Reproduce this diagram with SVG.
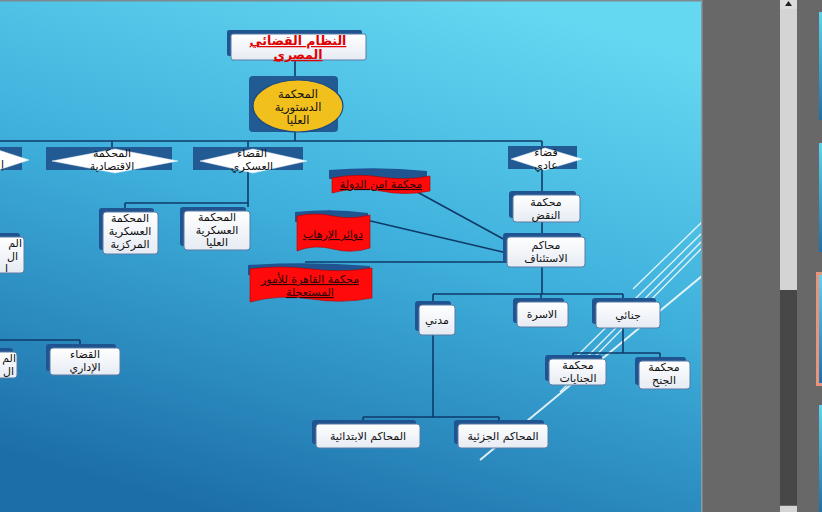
<svg xmlns="http://www.w3.org/2000/svg" width="822" height="512" viewBox="0 0 822 512">
<defs>
<linearGradient id="bg" x1="0.7" y1="0" x2="0.3" y2="1">
<stop offset="0" stop-color="#64d7f1"/>
<stop offset="0.45" stop-color="#3fb0dc"/>
<stop offset="1" stop-color="#1c6ea8"/>
</linearGradient>
<linearGradient id="boxg" x1="0" y1="0" x2="0" y2="1">
<stop offset="0" stop-color="#ffffff"/>
<stop offset="1" stop-color="#e6ebf3"/>
</linearGradient>
<linearGradient id="thumb" x1="0" y1="0" x2="0" y2="1">
<stop offset="0" stop-color="#5fd3ee"/>
<stop offset="1" stop-color="#1f6fa6"/>
</linearGradient>
<style>
.sh{fill:#1f5490;}
.box{fill:url(#boxg);stroke:#5a7aa6;stroke-width:1;}
.dk{fill:#225a94;}
.dia{fill:#ffffff;stroke:#e8eef6;stroke-width:0.5;}
.t{font-family:"DejaVu Sans",sans-serif;font-size:11px;fill:#111;text-anchor:middle;}
.rt{font-family:"DejaVu Sans",sans-serif;font-size:11px;fill:#2a0505;text-anchor:middle;text-decoration:underline;}
.red{fill:#ff0a0a;stroke:#b00000;stroke-width:0.6;}
.rsh{fill:#1f5490;}
.ln{stroke:#0e3a68;stroke-width:1.6;fill:none;}
.deco{stroke:#ffffff;fill:none;opacity:0.85;}
</style>
</defs>

<rect x="0" y="0" width="702" height="512" fill="url(#bg)"/>
<rect x="0" y="0" width="702" height="1.5" fill="#7d8a90"/>

<g id="decoration">
<line class="deco" x1="480" y1="460" x2="702" y2="276" stroke-width="2"/>
<line class="deco" x1="633" y1="289" x2="702" y2="222" stroke-width="1.3"/>
<line class="deco" x1="576" y1="357" x2="702" y2="233" stroke-width="1.3"/>
<line class="deco" x1="586" y1="358" x2="702" y2="241" stroke-width="1.3"/>
<line class="deco" x1="560" y1="392" x2="702" y2="248" stroke-width="1.3"/>
</g>

<g id="connectors">
<line class="ln" x1="295" y1="60" x2="295" y2="80"/>
<line class="ln" x1="295" y1="132" x2="295" y2="141"/>
<line class="ln" x1="0" y1="141" x2="542" y2="141"/>
<line class="ln" x1="112" y1="141" x2="112" y2="148"/>
<line class="ln" x1="248" y1="141" x2="248" y2="207"/>
<line class="ln" x1="125" y1="203" x2="248" y2="203"/>
<line class="ln" x1="125" y1="203" x2="125" y2="209"/>
<line class="ln" x1="542" y1="141" x2="542" y2="294"/>
<line class="ln" x1="377" y1="170" x2="507" y2="241"/>
<line class="ln" x1="328" y1="211" x2="507" y2="253"/>
<line class="ln" x1="305" y1="262" x2="507" y2="262"/>
<line class="ln" x1="433" y1="294" x2="623" y2="294"/>
<line class="ln" x1="433" y1="294" x2="433" y2="417"/>
<line class="ln" x1="541" y1="294" x2="541" y2="300"/>
<line class="ln" x1="623" y1="294" x2="623" y2="353"/>
<line class="ln" x1="573" y1="353" x2="660" y2="353"/>
<line class="ln" x1="573" y1="353" x2="573" y2="357"/>
<line class="ln" x1="660" y1="353" x2="660" y2="358"/>
<line class="ln" x1="363" y1="417" x2="499" y2="417"/>
<line class="ln" x1="363" y1="417" x2="363" y2="421"/>
<line class="ln" x1="499" y1="417" x2="499" y2="421"/>
<line class="ln" x1="0" y1="340" x2="80" y2="340"/>
<line class="ln" x1="80" y1="340" x2="80" y2="346"/>
</g>

<g id="title">
<rect class="sh" x="227" y="30" width="135" height="26" rx="2"/>
<rect class="box" x="231" y="34" width="135" height="26" rx="2"/>
<text class="t" x="298" y="45" style="fill:#e00000;font-weight:bold;font-size:12.5px;text-decoration:underline">النظام القضائي<tspan x="298" dy="14">المصري</tspan></text>
</g>

<g id="constitutional-court">
<rect class="dk" x="249" y="76" width="89" height="56" rx="4"/>
<ellipse cx="298" cy="106" rx="45" ry="26" fill="#f1c01c" stroke="#1d4b82" stroke-width="1.2"/>
<text class="t" x="298" y="98" style="font-size:11.5px">المحكمة<tspan x="298" dy="13">الدستورية</tspan><tspan x="298" dy="13">العليا</tspan></text>
</g>

<g id="left-diamond">
<rect class="dk" x="0" y="147" width="22" height="23"/>
<polygon class="dia" points="-40,160 -5,149 29,160 -5,171"/>
<text class="t" x="4" y="168" style="text-anchor:end">إ</text>
</g>

<g id="economic-court">
<rect class="dk" x="46" y="147" width="126" height="23"/>
<polygon class="dia" points="52,161 115,149 178,161 115,173"/>
<text class="t" x="112" y="157">المحكمة<tspan x="112" dy="13">الاقتصادية</tspan></text>
</g>

<g id="military-judiciary">
<rect class="dk" x="193" y="147" width="110" height="23"/>
<polygon class="dia" points="200,161 253,149 307,161 253,173"/>
<text class="t" x="252" y="157">القضاء<tspan x="252" dy="13">العسكري</tspan></text>
</g>

<g id="central-military-court">
<rect class="sh" x="99" y="208" width="55" height="42" rx="3"/>
<rect class="box" x="103" y="212" width="55" height="42" rx="3"/>
<text class="t" x="130" y="222">المحكمة<tspan x="130" dy="13">العسكرية</tspan><tspan x="130" dy="13">المركزية</tspan></text>
</g>

<g id="supreme-military-court">
<rect class="sh" x="180" y="207" width="66" height="39" rx="3"/>
<rect class="box" x="184" y="211" width="66" height="39" rx="3"/>
<text class="t" x="217" y="221">المحكمة<tspan x="217" dy="12.5">العسكرية</tspan><tspan x="217" dy="12.5">العليا</tspan></text>
</g>

<g id="ordinary-judiciary">
<rect class="dk" x="508" y="146" width="69" height="23"/>
<polygon class="dia" points="511,159 545,148 582,159 545,170"/>
<text class="t" x="546" y="156">قضاء<tspan x="546" dy="12.5">عادي</tspan></text>
</g>

<g id="cassation-court">
<rect class="sh" x="509" y="191" width="67" height="27" rx="3"/>
<rect class="box" x="513" y="195" width="67" height="27" rx="3"/>
<text class="t" x="546" y="206">محكمة<tspan x="546" dy="13">النقض</tspan></text>
</g>

<g id="appeal-courts">
<rect class="sh" x="503" y="233" width="78" height="30" rx="3"/>
<rect class="box" x="507" y="237" width="78" height="30" rx="3"/>
<text class="t" x="546" y="249">محاكم<tspan x="546" dy="13">الاستئناف</tspan></text>
</g>

<g id="state-security-court">
<path class="rsh" d="M329,170 Q378,166 427,171 L427,179 L329,179 Z"/>
<path class="red" d="M332,178 Q356,173 381,177 T430,176 L430,191 Q405,196 381,191 T332,193 Z"/>
<text class="rt" x="381" y="188">محكمة امن الدولة</text>
</g>

<g id="terrorism-circuits">
<path class="rsh" d="M295,212 Q332,208 368,213 L368,222 L295,222 Z"/>
<path class="red" d="M297,216 Q315,212 333,216 T370,215 L370,248 Q352,254 333,249 T297,251 Z"/>
<text class="rt" x="333" y="238">دوائر الإرهاب</text>
</g>

<g id="cairo-urgent-court">
<path class="rsh" d="M248,265 Q309,261 370,266 L370,275 L248,275 Z"/>
<path class="red" d="M250,269 Q280,265 311,269 T372,268 L372,298 Q342,304 311,299 T250,302 Z"/>
<text class="rt" x="310" y="283">محكمة القاهرة للأمور<tspan x="310" dy="13">المستعجلة</tspan></text>
</g>

<g id="civil">
<rect class="sh" x="415" y="301" width="36" height="30" rx="3"/>
<rect class="box" x="419" y="305" width="36" height="30" rx="3"/>
<text class="t" x="437" y="324">مدني</text>
</g>

<g id="family">
<rect class="sh" x="513" y="298" width="51" height="25" rx="3"/>
<rect class="box" x="517" y="302" width="51" height="25" rx="3"/>
<text class="t" x="542" y="318">الاسرة</text>
</g>

<g id="criminal">
<rect class="sh" x="592" y="298" width="64" height="26" rx="3"/>
<rect class="box" x="596" y="302" width="64" height="26" rx="3"/>
<text class="t" x="628" y="319">جنائي</text>
</g>

<g id="felonies-court">
<rect class="sh" x="545" y="355" width="57" height="26" rx="3"/>
<rect class="box" x="549" y="359" width="57" height="26" rx="3"/>
<text class="t" x="578" y="369">محكمة<tspan x="578" dy="12.5">الجنايات</tspan></text>
</g>

<g id="misdemeanors-court">
<rect class="sh" x="635" y="357" width="51" height="28" rx="3"/>
<rect class="box" x="639" y="361" width="51" height="28" rx="3"/>
<text class="t" x="664" y="371">محكمة<tspan x="664" dy="13">الجنح</tspan></text>
</g>

<g id="primary-courts">
<rect class="sh" x="312" y="420" width="104" height="24" rx="3"/>
<rect class="box" x="316" y="424" width="104" height="24" rx="3"/>
<text class="t" x="368" y="440">المحاكم الابتدائية</text>
</g>

<g id="district-courts">
<rect class="sh" x="454" y="420" width="90" height="24" rx="3"/>
<rect class="box" x="458" y="424" width="90" height="24" rx="3"/>
<text class="t" x="503" y="440">المحاكم الجزئية</text>
</g>

<g id="left-node-1">
<rect class="sh" x="-10" y="233" width="30" height="36" rx="3"/>
<rect class="box" x="-6" y="237" width="30" height="36" rx="3"/>
<text class="t" x="22" y="247" style="text-anchor:end">الم<tspan x="18" dy="12.5">ال</tspan><tspan x="8" dy="12.5">ا</tspan></text>
</g>

<g id="left-node-2">
<rect class="sh" x="-10" y="348" width="23" height="26" rx="3"/>
<rect class="box" x="-6" y="352" width="23" height="26" rx="3"/>
<text class="t" x="16" y="362" style="text-anchor:end">الم<tspan x="14" dy="12.5">ال</tspan></text>
</g>

<g id="administrative-judiciary">
<rect class="sh" x="46" y="344" width="70" height="27" rx="3"/>
<rect class="box" x="50" y="348" width="70" height="27" rx="3"/>
<text class="t" x="85" y="358">القضاء<tspan x="85" dy="13">الإداري</tspan></text>
</g>

<g id="app-panel">
<rect x="702" y="0" width="120" height="512" fill="#686868"/>
<rect x="701" y="0" width="1.5" height="512" fill="#8a9aa2"/>
<rect x="780" y="0" width="17" height="290" fill="#d4d4d4"/>
<rect x="780" y="0" width="17" height="9" fill="#dcdcdc"/>
<polygon points="785,6 788.5,1 792,6" fill="#222"/>
<rect x="780" y="290" width="17" height="215" fill="#474747"/>
<rect x="780" y="506" width="17" height="6" fill="#d4d4d4"/>
<rect x="819" y="12" width="3" height="108" fill="url(#thumb)"/>
<rect x="819" y="143" width="3" height="109" fill="url(#thumb)"/>
<rect x="816" y="272" width="6" height="114" fill="#e8937c"/>
<rect x="819" y="275" width="3" height="108" fill="url(#thumb)"/>
<rect x="819" y="405" width="3" height="107" fill="url(#thumb)"/>
</g>
</svg>
